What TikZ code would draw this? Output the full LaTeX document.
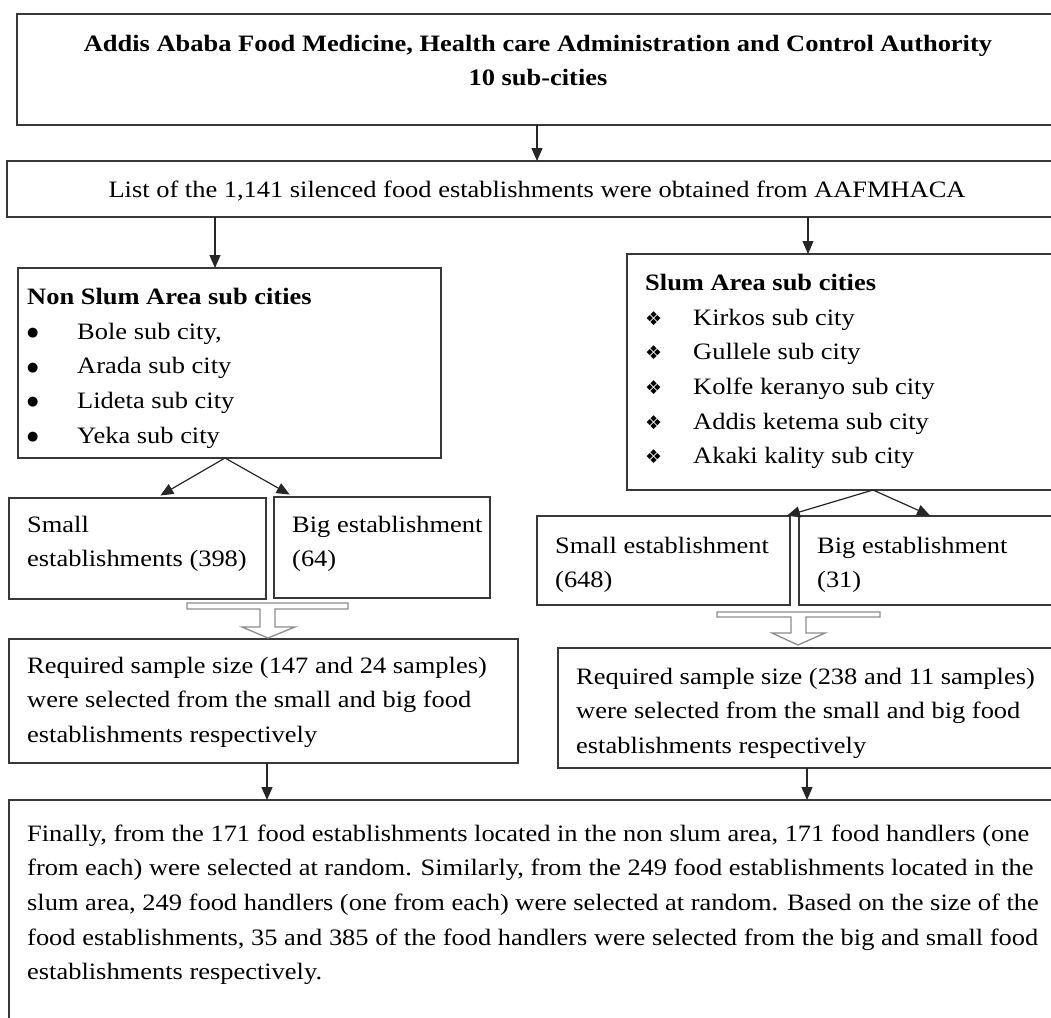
\documentclass[tikz,border=0pt]{standalone}
\usepackage{fontspec}
\setmainfont[FakeStretch=1.125]{Liberation Serif}
\newfontfamily\dejavu{DejaVu Sans}
\usetikzlibrary{arrows.meta}
\newcommand\dmd{{\dejavu\fontsize{19}{20}\selectfont ❖}}
\newcommand\bdot{\raisebox{2.5pt}{\dejavu\fontsize{13}{20}\selectfont ●}}
\begin{document}
\begin{tikzpicture}[x=1pt,y=-1pt,
  box/.style={draw=black!78, line width=1.3pt, anchor=north west, inner sep=0pt, outer sep=0pt},
  txt/.style={inner sep=0pt, anchor=north west, align=left, font=\fontsize{23.5}{34.6}\selectfont},
  btxt/.style={txt, font=\fontsize{23.5}{34.6}\selectfont\bfseries},
  arr/.style={draw=black!85, line width=1.2pt, -{Triangle[length=13pt,width=11pt]}},
  hollow/.style={draw=black!45, line width=1.3pt, fill=white}]
\clip (0,0) rectangle (1051,1017);
\fill[white] (0,0) rectangle (1051,1017);

% boxes
\node[box, minimum width=1060pt, minimum height=111pt] (top) at (17,14) {};
\node[box, minimum width=1060pt, minimum height=56pt] (list) at (7,161) {};
\node[box, minimum width=423pt, minimum height=190pt] (ns) at (18,268) {};
\node[box, minimum width=450pt, minimum height=236pt] (sl) at (627,254) {};
\node[box, minimum width=257pt, minimum height=101pt] (nssmall) at (9,498) {};
\node[box, minimum width=216pt, minimum height=101pt] (nsbig) at (274,497) {};
\node[box, minimum width=253pt, minimum height=89pt] (slsmall) at (537,516) {};
\node[box, minimum width=280pt, minimum height=89pt] (slbig) at (799,516) {};
\node[box, minimum width=509pt, minimum height=124pt] (nsreq) at (9,639) {};
\node[box, minimum width=520pt, minimum height=120pt] (slreq) at (558,648) {};
\node[box, minimum width=1080pt, minimum height=260pt] (final) at (9,800) {};

% connectors
\draw[arr] (537,0 |- top.south) -- (537,0 |- list.north);
\draw[arr] (215,0 |- list.south) -- (215,0 |- ns.north);
\draw[arr] (808,0 |- list.south) -- (808,0 |- sl.north);
\draw[arr, shorten >=5pt] (225,0 |- ns.south) -- (156,0 |- nssmall.north);
\draw[arr, shorten >=5pt] (225,0 |- ns.south) -- (294,0 |- nsbig.north);
\draw[arr, shorten >=1pt] (873,0 |- sl.south) -- (786,0 |- slsmall.north);
\draw[arr, shorten >=1pt] (873,0 |- sl.south) -- (931,0 |- slbig.north);
\draw[arr] (267,0 |- nsreq.south) -- (267,0 |- final.north);
\draw[arr] (807,0 |- slreq.south) -- (807,0 |- final.north);

% hollow block arrows
\draw[hollow] (187,603) -- (348,603) -- (348,609) -- (275,609) -- (275,627) -- (295,627)
  -- (268,638) -- (242,627) -- (260,627) -- (260,609) -- (187,609) -- cycle;
\draw[hollow] (717,612) -- (880,612) -- (880,617) -- (806,617) -- (806,633) -- (825,633)
  -- (798,645) -- (772,633) -- (791,633) -- (791,617) -- (717,617) -- cycle;

% texts
\node[btxt, anchor=north, align=center] (toptxt) at (538,26.8)
  {\strut Addis Ababa Food Medicine, Health care Administration and Control Authority\\10 sub-cities};
\node[txt, anchor=north, align=center] (listtxt) at (537,172.8)
  {\strut List of the 1,141 silenced food establishments were obtained from AAFMHACA};

\node[btxt] (nshead) at (27,279.8) {\strut Non Slum Area sub cities};
\node[txt] (nsbul) at (27,314.8) {\strut\bdot\\\bdot\\\bdot\\\bdot};
\node[txt] (nsitems) at (77,314.8) {\strut Bole sub city,\\Arada sub city\\Lideta sub city\\Yeka sub city};

\node[btxt] (slhead) at (645,265.8) {\strut Slum Area sub cities};
\node[txt] (slbul) at (645,300.8) {\strut\dmd\\\dmd\\\dmd\\\dmd\\\dmd};
\node[txt] (slitems) at (693,300.8) {\strut Kirkos sub city\\Gullele sub city\\Kolfe keranyo sub city\\Addis ketema sub city\\Akaki kality sub city};

\node[txt] (nssmalltxt) at (27,507.8) {\strut Small\\establishments (398)};
\node[txt] (nsbigtxt) at (292,507.8) {\strut Big establishment\\(64)};
\node[txt] (slsmalltxt) at (555,528.8) {\strut Small establishment\\(648)};
\node[txt] (slbigtxt) at (817,528.8) {\strut Big establishment\\(31)};

\node[txt] (nsreqtxt) at (27,648.8) {\strut Required sample size (147 and 24 samples)\\were selected from the small and big food\\establishments respectively};
\node[txt] (slreqtxt) at (576,659.8) {\strut Required sample size (238 and 11 samples)\\were selected from the small and big food\\establishments respectively};

\node[txt] (finaltxt) at (27,816.8) {\strut Finally, from the 171 food establishments located in the non slum area, 171 food handlers (one\\from each) were selected at random. Similarly, from the 249 food establishments located in the\\slum area, 249 food handlers (one from each) were selected at random. Based on the size of the\\food establishments, 35 and 385 of the food handlers were selected from the big and small food\\establishments respectively.};
\end{tikzpicture}
\end{document}
